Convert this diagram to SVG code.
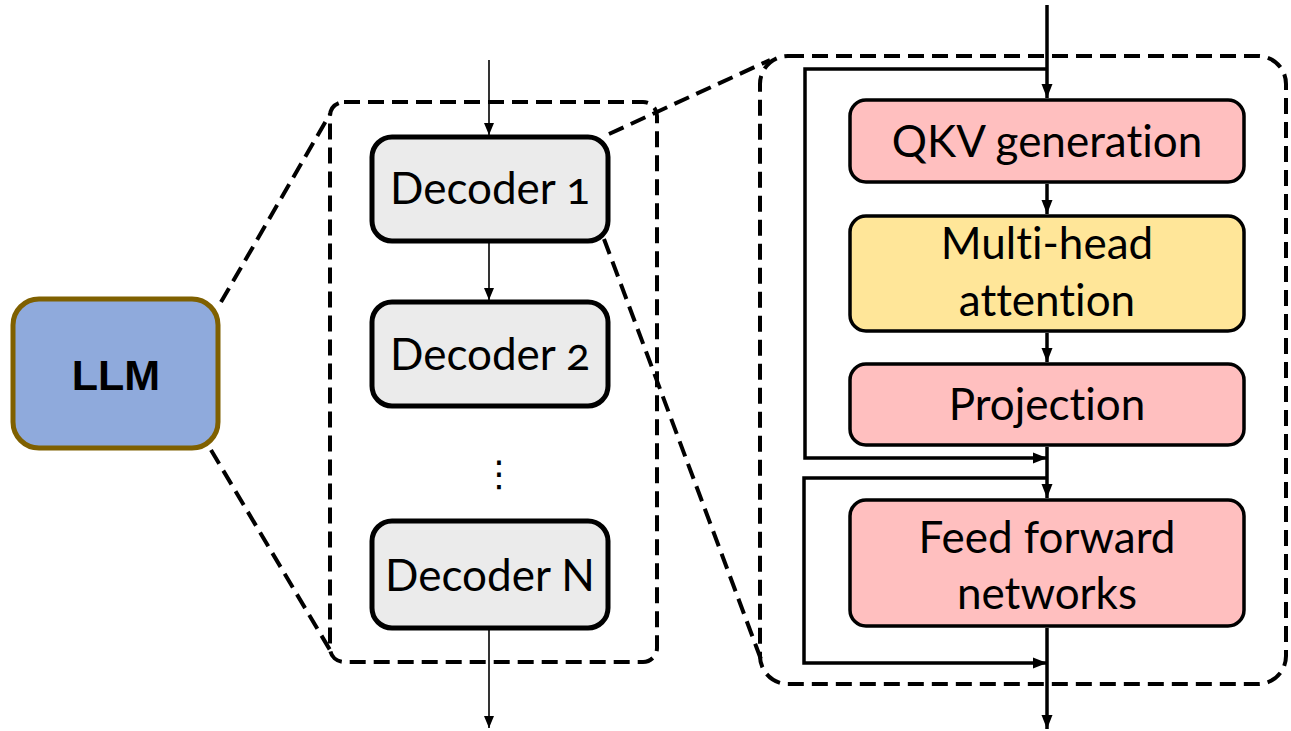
<svg xmlns="http://www.w3.org/2000/svg" width="1291" height="731" viewBox="0 0 1291 731">
<defs>
<style>
.dash{fill:none;stroke:#000;stroke-width:4;stroke-dasharray:16 8}
.dec rect{fill:#EBEBEB;stroke:#000;stroke-width:5}
.blk rect{stroke:#000;stroke-width:3.5}
.pink{fill:#FFBFBF}
.yel{fill:#FFE699}
.lbl{font-family:Lato,"Open Sans","Liberation Sans",sans-serif;font-size:44px;fill:#000;text-anchor:middle;font-variant-numeric:oldstyle-nums;font-variant-ligatures:none;font-feature-settings:"liga" 0,"onum" 1}
.thin{fill:none;stroke:#000;stroke-width:1.6}
.thick{fill:none;stroke:#000;stroke-width:3.5}
</style>
<marker id="ah" markerUnits="userSpaceOnUse" markerWidth="12" markerHeight="12" viewBox="0 0 12 12" refX="12" refY="6" orient="auto">
<path d="M0,1 L12,6 L0,11 Z" fill="#000"/>
</marker>
<marker id="ah2" markerUnits="userSpaceOnUse" markerWidth="14" markerHeight="14" viewBox="0 0 14 14" refX="14" refY="7" orient="auto">
<path d="M0,1.5 L14,7 L0,12.5 Z" fill="#000"/>
</marker>
</defs>
<rect width="1291" height="731" fill="#fff"/>

<g id="llm">
<rect x="13" y="299" width="205" height="149" rx="26" fill="#8FAADC" stroke="#7F6000" stroke-width="5"/>
<text x="116" y="390" font-family="'Liberation Sans',Arial,sans-serif" font-weight="bold" font-size="43" text-anchor="middle">LLM</text>
</g>

<g id="decoder-stack">
<rect class="dash" x="330" y="102" width="327" height="560" rx="14"/>
</g>

<g id="decoder1" class="dec">
<rect x="372" y="137" width="236" height="104" rx="20"/>
<text class="lbl" x="490" y="204">Decoder 1</text>
</g>
<g id="decoder2" class="dec">
<rect x="372" y="302" width="236" height="104" rx="20"/>
<text class="lbl" x="490" y="370">Decoder 2</text>
</g>
<g id="dots">
<text x="499" y="486" font-family="'DejaVu Sans',sans-serif" font-size="36" text-anchor="middle">⋮</text>
</g>
<g id="decoderN" class="dec">
<rect x="372" y="521" width="236" height="107" rx="20"/>
<text class="lbl" x="490" y="591">Decoder N</text>
</g>

<g id="decoder-detail">
<rect class="dash" x="760" y="56" width="526" height="628" rx="28"/>
</g>

<g id="qkv" class="blk">
<rect class="pink" x="850" y="100" width="394" height="82" rx="16"/>
<text class="lbl" x="1047" y="157">QKV generation</text>
</g>
<g id="mha" class="blk">
<rect class="yel" x="850" y="216" width="394" height="115" rx="16"/>
<text class="lbl" x="1047" y="259">Multi-head</text>
<text class="lbl" x="1047" y="316">attention</text>
</g>
<g id="proj" class="blk">
<rect class="pink" x="850" y="364" width="394" height="81" rx="16"/>
<text class="lbl" x="1047" y="420">Projection</text>
</g>
<g id="ffn" class="blk">
<rect class="pink" x="850" y="500" width="394" height="126" rx="16"/>
<text class="lbl" x="1047" y="553">Feed forward</text>
<text class="lbl" x="1047" y="609">networks</text>
</g>

<g id="connectors">
<line class="dash" x1="221" y1="302" x2="330" y2="114" stroke-dasharray="14 8"/>
<line class="dash" x1="211" y1="450" x2="333" y2="655" stroke-dasharray="14 8"/>
<line class="dash" x1="609" y1="134" x2="770" y2="60" stroke-dasharray="14 8"/>
<line class="dash" x1="604" y1="239" x2="762" y2="662" stroke-dasharray="14 8"/>

<line class="thin" x1="489" y1="60" x2="489" y2="135" marker-end="url(#ah)"/>
<line class="thin" x1="489" y1="243" x2="489" y2="300" marker-end="url(#ah)"/>
<line class="thin" x1="489" y1="630" x2="489" y2="728" marker-end="url(#ah)"/>

<line class="thick" x1="1047" y1="5" x2="1047" y2="98" marker-end="url(#ah2)"/>
<line class="thick" x1="1047" y1="184" x2="1047" y2="214" marker-end="url(#ah2)"/>
<line class="thick" x1="1047" y1="333" x2="1047" y2="362" marker-end="url(#ah2)"/>
<line class="thick" x1="1047" y1="447" x2="1047" y2="498" marker-end="url(#ah2)"/>
<line class="thick" x1="1047" y1="628" x2="1047" y2="729" marker-end="url(#ah2)"/>
<polyline class="thick" points="1047,69 805,69 805,458 1047,458" marker-end="url(#ah2)"/>
<polyline class="thick" points="1047,478 804,478 804,663 1047,663" marker-end="url(#ah2)"/>
</g>
</svg>
